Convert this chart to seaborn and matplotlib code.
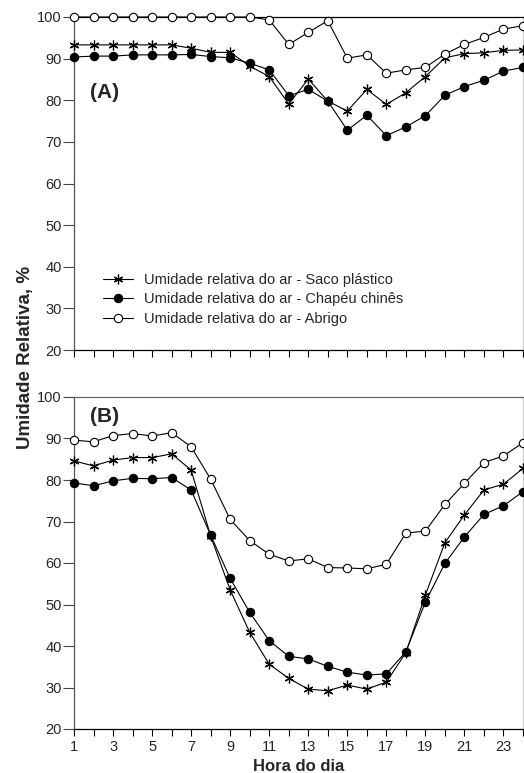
import matplotlib
matplotlib.use("Agg")
import matplotlib.pyplot as plt
import seaborn as sns
import pandas as pd
import numpy as np

hours = list(range(1, 25))

a_saco = [93.3, 93.3, 93.3, 93.3, 93.3, 93.3, 92.5, 91.5, 91.5, 88.2, 85.7, 79.1,
          85.1, 79.8, 77.4, 82.6, 79.0, 81.8, 85.7, 90.2, 91.2, 91.4, 92.0, 92.1]
a_chapeu = [90.4, 90.6, 90.6, 90.9, 90.9, 90.9, 91.0, 90.5, 90.2, 88.9, 87.3, 81.1,
            82.6, 79.8, 72.8, 76.4, 71.5, 73.6, 76.3, 81.2, 83.3, 84.8, 87.0, 87.9]
a_abrigo = [100, 100, 100, 100, 100, 100, 100, 100, 100, 100, 99.3, 93.4,
            96.3, 99.1, 90.1, 90.9, 86.5, 87.3, 87.9, 91.1, 93.4, 95.1, 97.1, 97.9]

b_saco = [84.6, 83.4, 84.8, 85.4, 85.4, 86.3, 82.4, 66.5, 53.5, 43.3, 35.6, 32.2,
          29.6, 29.2, 30.6, 29.6, 31.3, 38.4, 52.3, 64.9, 71.6, 77.6, 79.0, 82.8]
b_chapeu = [79.3, 78.6, 79.8, 80.4, 80.3, 80.6, 77.6, 66.7, 56.3, 48.1, 41.3, 37.5,
            36.9, 35.1, 33.7, 33.0, 33.3, 38.6, 50.6, 59.9, 66.3, 71.7, 73.8, 77.2]
b_abrigo = [89.6, 89.2, 90.7, 91.2, 90.6, 91.4, 88.0, 80.2, 70.5, 65.4, 62.1, 60.5,
            61.0, 58.9, 58.8, 58.6, 59.7, 67.2, 67.7, 74.1, 79.2, 84.2, 85.8, 89.0]

series_names = ["Umidade relativa do ar - Saco plástico",
                "Umidade relativa do ar - Chapéu chinês",
                "Umidade relativa do ar - Abrigo"]
yticks = [20, 30, 40, 50, 60, 70, 80, 90, 100]
xticks_major = list(range(1, 25, 2))
panel_labels = ["(A)", "(B)"]
xlabel = "Hora do dia"
ylabel = "Umidade Relativa, %"

sns.set_style("ticks")
plt.rcParams["font.family"] = ["Liberation Sans", "DejaVu Sans"]

W, H = 524, 773
fig = plt.figure(figsize=(W / 100, H / 100), dpi=100)

def fr(x0, y0, x1, y1):
    return [x0 / W, 1 - y1 / H, (x1 - x0) / W, (y1 - y0) / H]

axA = fig.add_axes(fr(74, 17, 523, 350))
axB = fig.add_axes(fr(74, 397, 523, 729))

styles = [
    dict(marker=(6, 2, 0), markersize=7, markeredgewidth=0.9, markerfacecolor="black", markeredgecolor="black"),
    dict(marker="o", markersize=6, markeredgewidth=0.8, markerfacecolor="black", markeredgecolor="black"),
    dict(marker="o", markersize=6, markeredgewidth=0.8, markerfacecolor="white", markeredgecolor="black"),
]

FS = 10.5

for ax, vals, lab, ly, top_col in [(axA, [a_saco, a_chapeu, a_abrigo], panel_labels[0], 0.772, "black"),
                                   (axB, [b_saco, b_chapeu, b_abrigo], panel_labels[1], 0.94, "#666666")]:
    for name, v, st in zip(series_names, vals, styles):
        df = pd.DataFrame({"hora": hours, "ur": v})
        sns.lineplot(data=df, x="hora", y="ur", ax=ax, color="black", linewidth=0.8,
                     label=name, clip_on=False, zorder=3, **st)
    ax.set_xlim(1, 24)
    ax.set_ylim(20, 100)
    ax.set_yticks(yticks)
    ax.set_yticklabels([str(t) for t in yticks], fontsize=FS)
    ax.set_xticks(xticks_major)
    ax.set_xticks(list(range(2, 25, 2)), minor=True)
    ax.tick_params(axis="y", direction="out", length=8, width=0.8, color="#444444", pad=1)
    ax.tick_params(axis="x", which="both", direction="out", length=5, width=0.8, color="black", pad=3)
    ax.set_xlabel("")
    ax.set_ylabel("")
    for s in ["left", "bottom", "top", "right"]:
        ax.spines[s].set_visible(True)
        ax.spines[s].set_linewidth(0.9)
    ax.spines["left"].set_color("#555555")
    ax.spines["bottom"].set_color("black")
    ax.spines["top"].set_color(top_col)
    ax.spines["right"].set_color("#cccccc")
    ax.text(0.035, ly, lab, transform=ax.transAxes,
            fontsize=15, fontweight="bold", va="center", ha="left")

axA.set_xticklabels([])
axB.set_xticklabels([str(t) for t in xticks_major], fontsize=FS)
axB.set_xlabel(xlabel, fontsize=12, fontweight="bold", labelpad=3.5)

leg = axA.legend(loc="upper left", bbox_to_anchor=(0.064, 0.231), frameon=False,
                 fontsize=FS, handlelength=2.1, handletextpad=0.75, labelspacing=0.37,
                 borderaxespad=0, borderpad=0)
if axB.get_legend():
    axB.get_legend().remove()

fig.text(26 / W, 1 - 357 / H, ylabel, rotation=90, fontsize=13.5, fontweight="bold",
         va="center", ha="center")

fig.savefig("out.png", dpi=100)
